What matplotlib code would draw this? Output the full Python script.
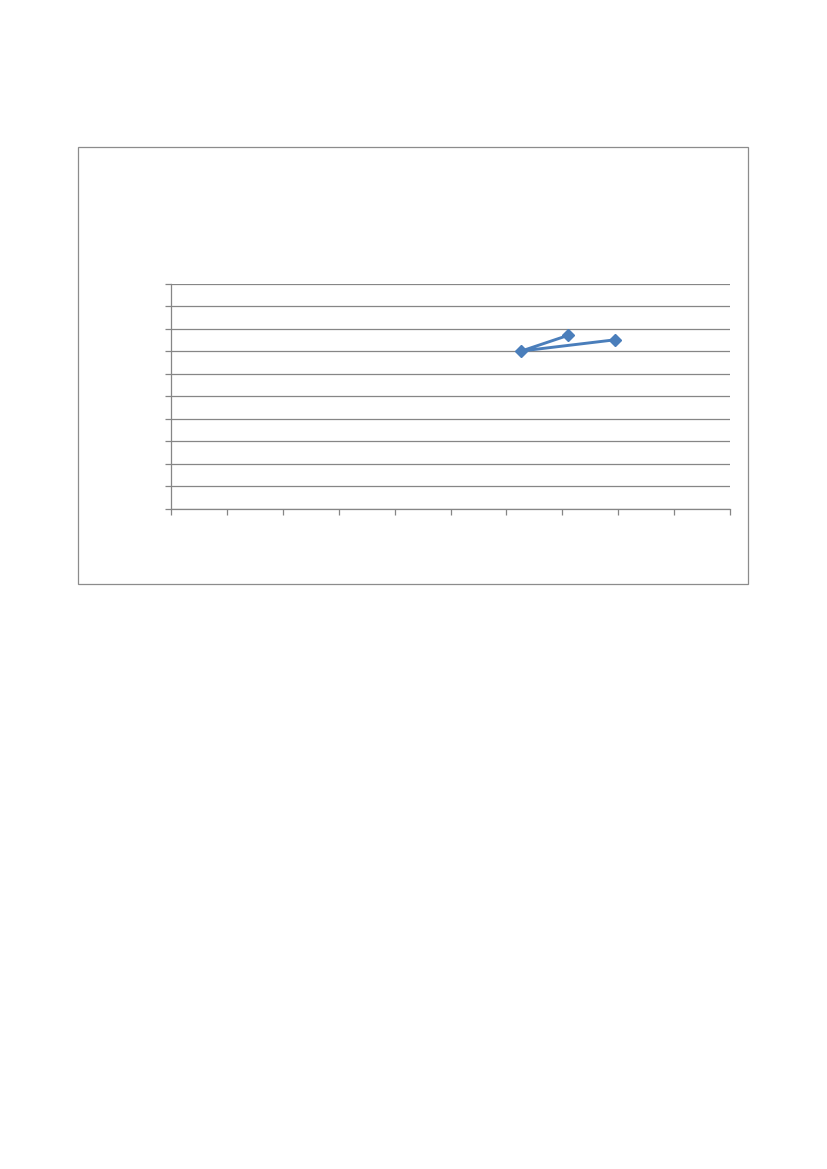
import matplotlib.pyplot as plt
from matplotlib.patches import Rectangle

# dane serii (kolejnosc punktow jak na wykresie)
x_values = [7.11, 6.27, 7.95]
y_values = [7.7, 7.0, 7.5]

x_ticks = list(range(0, 11))
y_ticks = list(range(0, 11))

W, H = 827, 1169
fig = plt.figure(figsize=(W / 100, H / 100), dpi=100)
fig.patch.set_facecolor('white')

# ramka wykresu
box = Rectangle((78 / W, 1 - 584 / H), (748 - 78) / W, (584 - 147) / H,
                transform=fig.transFigure, fill=False, edgecolor='#8c8c8c', linewidth=0.9)
fig.patches.append(box)

ax = fig.add_axes([171 / W, 1 - 508.5 / H, 559 / W, 225 / H])
ax.plot(x_values, y_values, color='#4a7ebb', linewidth=2.1, marker='D',
        markersize=6.5, markerfacecolor='#4a7ebb', markeredgecolor='#4a7ebb', zorder=3)

ax.set_xlim(x_ticks[0], x_ticks[-1])
ax.set_ylim(y_ticks[0], y_ticks[-1])
ax.set_xticks(x_ticks)
ax.set_yticks(y_ticks)
ax.set_xticklabels([])
ax.set_yticklabels([])
ax.tick_params(axis='both', direction='out', length=4, width=0.9, color='#868686')
ax.grid(axis='y', color='#868686', linewidth=0.9)
ax.set_axisbelow(True)

for side in ['top', 'right']:
    ax.spines[side].set_visible(False)
for side in ['left', 'bottom']:
    ax.spines[side].set_color('#868686')
    ax.spines[side].set_linewidth(0.9)

fig.savefig('out.png', dpi=100)
